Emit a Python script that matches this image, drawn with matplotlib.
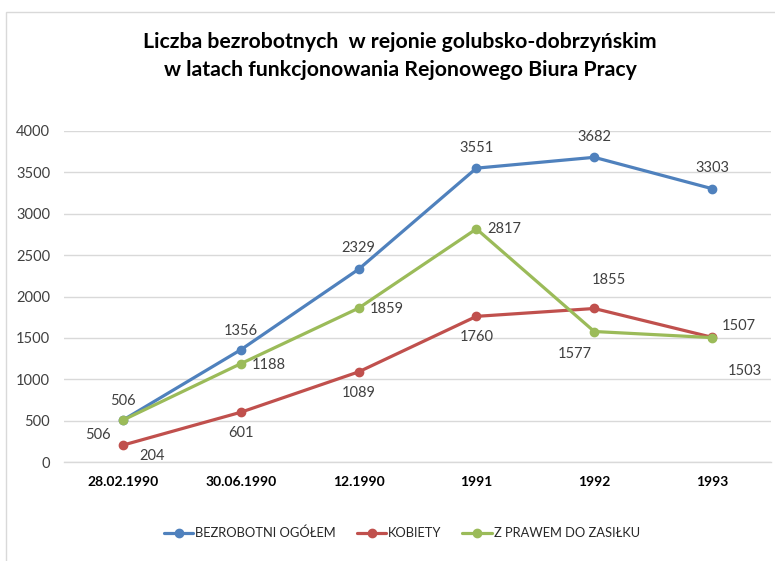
import matplotlib
matplotlib.use("Agg")
import matplotlib.pyplot as plt
from matplotlib.patches import Rectangle

plt.rcParams['font.family'] = ['Lato', 'DejaVu Sans']

categories = ["28.02.1990", "30.06.1990", "12.1990", "1991", "1992", "1993"]
ogolem = [506, 1356, 2329, 3551, 3682, 3303]
kobiety = [204, 601, 1089, 1760, 1855, 1507]
zasilek = [506, 1188, 1859, 2817, 1577, 1503]
series_names = ["BEZROBOTNI OGÓŁEM", "KOBIETY", "Z PRAWEM DO ZASIŁKU"]
yticks = [0, 500, 1000, 1500, 2000, 2500, 3000, 3500, 4000]

colors = ["#4F81BD", "#C0504D", "#9BBB59"]

# label offsets in pixels (dx right, dy down)
off_ogolem = [(0, -19), (0, -19), (0, -21), (0, -20), (0, -20), (0, -21)]
off_kobiety = [(29, 11), (0, 21), (0, 21), (0, 21), (15, -28), (27, -11)]
off_zasilek = [(-25, 15), (28, 1), (28, 1), (28, 0), (-19, 22), (33, 33)]

fig = plt.figure(figsize=(7.75, 5.61), dpi=100)
W, H = 775, 561
ax = fig.add_axes([64 / W, 1 - 462 / H, (771 - 64) / W, (462 - 131) / H])

# chart frame
fig.patches.append(Rectangle((6 / W, -0.1), 1.1, 1 - 12 / H + 0.1, transform=fig.transFigure,
                             fill=False, edgecolor="#D9D9D9", linewidth=1))

x = list(range(len(categories)))
for vals, col, name, offs in [(ogolem, colors[0], series_names[0], off_ogolem),
                              (kobiety, colors[1], series_names[1], off_kobiety),
                              (zasilek, colors[2], series_names[2], off_zasilek)]:
    ax.plot(x, vals, color=col, linewidth=2.3, marker="o", markersize=6, label=name,
            solid_capstyle="round", zorder=3)
    for xi, v, (dx, dy) in zip(x, vals, offs):
        ax.annotate(str(v), (xi, v), xytext=(dx, -dy), textcoords="offset pixels",
                    ha="center", va="center", fontsize=10.5, color="#404040")

ax.set_xlim(-0.5, len(categories) - 0.5)
ax.set_ylim(0, 4000)
ax.set_yticks(yticks)
ax.set_yticklabels([str(t) for t in yticks], fontsize=10.5, color="#404040")
ax.set_xticks(x)
ax.set_xticklabels(categories, fontsize=10, fontweight="bold", color="#000000")
ax.tick_params(axis="both", length=0)
ax.tick_params(axis="y", pad=10)
ax.tick_params(axis="x", pad=10)
ax.grid(axis="y", color="#D9D9D9", linewidth=1)
ax.set_axisbelow(True)
for s in ["top", "right", "left"]:
    ax.spines[s].set_visible(False)
ax.spines["bottom"].set_color("#D9D9D9")
ax.spines["bottom"].set_linewidth(1)

fig.text(400 / W, 1 - 56 / H,
         "Liczba bezrobotnych  w rejonie golubsko-dobrzyńskim\nw latach funkcjonowania Rejonowego Biura Pracy",
         ha="center", va="center", fontsize=15.3, fontweight="bold", linespacing=1.5)

fig.legend(loc="center", bbox_to_anchor=(402 / W, 1 - 533 / H), ncol=3, frameon=False,
           fontsize=9.3, handlelength=2.3, columnspacing=1.6, handletextpad=0.15,
           labelcolor="#262626")

fig.savefig("out.png", dpi=100)
